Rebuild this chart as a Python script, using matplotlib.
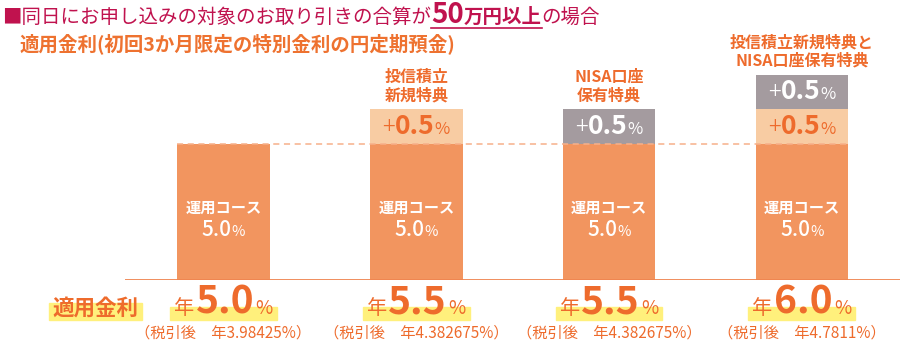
import numpy as np
import matplotlib
matplotlib.use('Agg')
from matplotlib import pyplot as plt
from matplotlib.offsetbox import TextArea, HPacker, AnnotationBbox
from matplotlib.patches import Rectangle
from matplotlib.transforms import blended_transform_factory
from matplotlib.lines import Line2D

plt.rcParams['font.family'] = ['Noto Sans CJK JP', 'DejaVu Sans']

# data
bar_titles = ['', '投信積立\n新規特典', 'NISA口座\n保有特典', '投信積立新規特典と\nNISA口座保有特典']
base_rate = [5.0, 5.0, 5.0, 5.0]
tsumitate_bonus = [0.0, 0.5, 0.0, 0.5]
nisa_bonus = [0.0, 0.0, 0.5, 0.5]
total_rate = ['5.0', '5.5', '5.5', '6.0']
after_tax = ['3.98425', '4.382675', '4.382675', '4.7811']
course_name = '運用コース'

ORANGE = '#F2955F'
PEACH = '#F8CCA3'
GRAY = '#A49B9F'
TXT = '#EE6B2C'
CRIMSON = '#C0124E'
YELLOW = '#FFF07C'

W, H = 900, 342
fig = plt.figure(figsize=(9, 3.42), dpi=100)


def fy(py):
    return 1 - py / H


# bar axes: 5% base is drawn short, bonus steps drawn tall (not to scale)
def fwd(y):
    y = np.asarray(y, float)
    return np.where(y <= 5, y * 27.3, 136.5 + (y - 5) * 69)


def inv(p):
    p = np.asarray(p, float)
    return np.where(p <= 136.5, p / 27.3, 5 + (p - 136.5) / 69)


ax = fig.add_axes([125 / W, fy(280), 775 / W, 280 / H])
ax.set_yscale('function', functions=(fwd, inv))
ax.set_xlim(-0.511, 3.509)
ax.set_ylim(0, float(inv(280)))
ax.axis('off')

x = np.arange(len(base_rate))
bw = 0.48
ax.bar(x, base_rate, width=bw, color=ORANGE, zorder=2)
ax.bar(x, tsumitate_bonus, width=bw, bottom=base_rate, color=PEACH, zorder=2)
bottom2 = np.array(base_rate) + np.array(tsumitate_bonus)
ax.bar(x, nisa_bonus, width=bw, bottom=bottom2, color=GRAY, zorder=2)
ax.hlines(5.0, -0.24, 3.24, colors='#F7B08A', linestyles=(0, (4, 3)), lw=1.1, zorder=2.5)
ax.axhline(0, color='#EF8550', lw=1.3, zorder=3)


def rich(parts, xy, xycoords, align=(0.5, 0.5), sep=0):
    boxes = [TextArea(s, textprops=p) for s, p in parts]
    pack = HPacker(children=boxes, align='baseline', pad=0, sep=sep)
    ab = AnnotationBbox(pack, xy, xycoords=xycoords, frameon=False,
                        box_alignment=align, pad=0, zorder=5)
    fig.add_artist(ab)
    return boxes


def plus_parts(col):
    return [('+', dict(color=col, fontsize=17, fontweight='light')),
            ('0.5', dict(color=col, fontsize=19, fontweight='bold')),
            ('%', dict(color=col, fontsize=12))]


for i in x:
    # inside base bar
    ax.text(i, 2.64, course_name, color='white', fontsize=11, fontweight='bold',
            ha='center', va='center', zorder=4)
    rich([('5.0', dict(color='white', fontsize=15, fontweight='medium')),
          ('%', dict(color='white', fontsize=10.5))], (i, 1.83), ax.transData)
    top = base_rate[i]
    if tsumitate_bonus[i] > 0:
        rich(plus_parts(TXT), (i, top + tsumitate_bonus[i] / 2), ax.transData)
        top += tsumitate_bonus[i]
    if nisa_bonus[i] > 0:
        rich(plus_parts('white'), (i, top + nisa_bonus[i] / 2), ax.transData)
        top += nisa_bonus[i]
    if bar_titles[i]:
        ax.annotate(bar_titles[i], (i, top), xytext=(0, 4), textcoords='offset points',
                    ha='center', va='bottom', color=TXT, fontsize=11.5,
                    fontweight='bold', linespacing=1.2, multialignment='center')

# bottom row
bt = blended_transform_factory(ax.transData, fig.transFigure)
fig.add_artist(Rectangle((49 / W, fy(320)), 93 / W, 17 / H, transform=fig.transFigure,
                         color=YELLOW, zorder=1))
fig.text(95 / W, fy(308), '適用金利', color=TXT, fontsize=15.5, fontweight='bold',
         ha='center', va='center', zorder=3)
for i in x:
    fig.add_artist(Rectangle((i - 0.277, fy(320)), 0.554, 13 / H, transform=bt,
                             color=YELLOW, zorder=1))
    rich([('年', dict(color=TXT, fontsize=14.5)),
          (total_rate[i], dict(color=TXT, fontsize=28, fontweight='bold')),
          ('%', dict(color=TXT, fontsize=13.5))], (i, fy(302)), bt, sep=1)
    fig.text(i, fy(333), f'（税引後　年{after_tax[i]}%）', transform=bt, color=TXT,
             fontsize=11, ha='center', va='center')

# titles
tb = rich([('■同日にお申し込みの対象のお取り引きの合算が', dict(color=CRIMSON, fontsize=14)),
           ('50', dict(color=CRIMSON, fontsize=20, fontweight='bold')),
           ('万円以上', dict(color=CRIMSON, fontsize=14, fontweight='bold')),
           ('の場合', dict(color=CRIMSON, fontsize=14))],
          (2 / W, fy(15)), fig.transFigure, align=(0, 0.5))
fig.text(20 / W, fy(44), '適用金利(初回3か月限定の特別金利の円定期預金)', color='#EE7230',
         fontsize=14, fontweight='bold', ha='left', va='center')

fig.canvas.draw()
r = fig.canvas.get_renderer()
e1 = tb[1].get_window_extent(r)
e2 = tb[2].get_window_extent(r)
fig.add_artist(Line2D([e1.x0 / W, e2.x1 / W], [fy(27.5), fy(27.5)], color=CRIMSON,
                      lw=1.2, transform=fig.transFigure))

fig.savefig('out.png', dpi=100)
